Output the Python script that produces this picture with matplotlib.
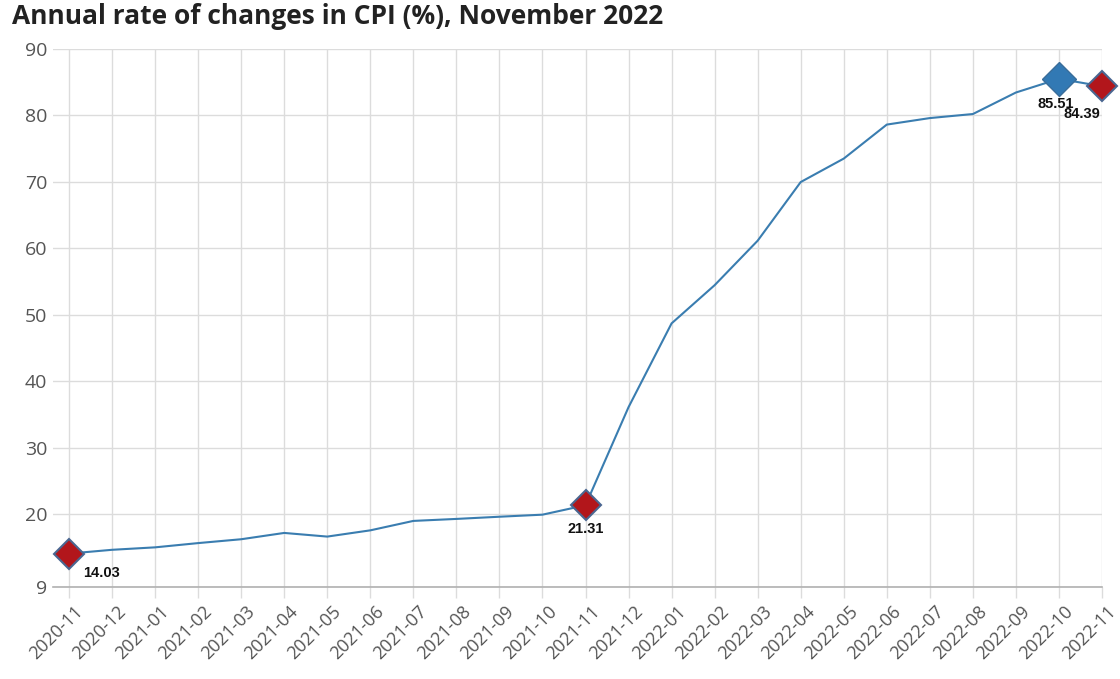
import matplotlib
matplotlib.use('Agg')
import matplotlib.pyplot as plt
from matplotlib.transforms import ScaledTranslation

# monthly annual CPI change (%)
months = ['2020-11', '2020-12', '2021-01', '2021-02', '2021-03', '2021-04', '2021-05',
          '2021-06', '2021-07', '2021-08', '2021-09', '2021-10', '2021-11', '2021-12',
          '2022-01', '2022-02', '2022-03', '2022-04', '2022-05', '2022-06', '2022-07',
          '2022-08', '2022-09', '2022-10', '2022-11']
cpi = [14.03, 14.60, 14.97, 15.61, 16.19, 17.14, 16.59, 17.53, 18.95, 19.25, 19.58, 19.89,
       21.31, 36.08, 48.69, 54.44, 61.14, 69.97, 73.50, 78.62, 79.60, 80.21, 83.45, 85.51, 84.39]

# highlighted points
red_points = [0, 12, 24]
blue_points = [23]
y_ticks = [9, 20, 30, 40, 50, 60, 70, 80, 90]

line_color = '#3a7db0'
grid_color = '#dcdcdc'
tick_color = '#555555'

fig = plt.figure(figsize=(11.2, 6.79), dpi=100)
ax = fig.add_axes([53 / 1120, 1 - 587 / 679, (1102 - 53) / 1120, (587 - 49) / 679])

x = list(range(len(months)))
ax.plot(x, cpi, color=line_color, linewidth=1.5, zorder=3)

for i in red_points:
    ax.plot(x[i], cpi[i], marker='D', markersize=15, color='#b2161b',
            markeredgecolor='#4a6690', markeredgewidth=1.5, zorder=4, clip_on=False)
for i in blue_points:
    ax.plot(x[i], cpi[i], marker='D', markersize=17, color='#3279b4',
            markeredgecolor='#3a6d9a', markeredgewidth=1, zorder=4, clip_on=False)

# label offsets (points) below the highlighted markers
label_pos = {0: (10, -14, 'left'), 12: (0, -17, 'center'), 23: (-2, -18, 'center'), 24: (-1, -20, 'right')}
for i, (dx, dy, ha) in label_pos.items():
    ax.annotate(f'{cpi[i]:.2f}', (x[i], cpi[i]), xytext=(dx, dy), textcoords='offset points',
                ha=ha, va='center', fontsize=10.5, fontweight='bold', color='#111111',
                family='Liberation Sans', zorder=5, annotation_clip=False)

ax.set_xlim(-0.372, 24)
ax.set_ylim(9, 90)
ax.set_yticks(y_ticks)
ax.set_xticks(x)
ax.set_xticklabels(months, rotation=45, ha='right', rotation_mode='anchor')
ax.grid(True, color=grid_color, linewidth=1)
ax.set_axisbelow(True)

for side in ['top', 'right', 'left']:
    ax.spines[side].set_visible(False)
ax.spines['bottom'].set_color('#b0b0b0')
ax.spines['bottom'].set_linewidth(1.2)

ax.tick_params(axis='x', colors=grid_color, length=8, width=1, labelcolor=tick_color,
               labelsize=13, pad=3)
ax.tick_params(axis='y', length=0, labelcolor=tick_color, labelsize=14, pad=4)
shift = ScaledTranslation(5 / 100, 0, fig.dpi_scale_trans)
for lab in ax.get_xticklabels():
    lab.set_family('Open Sans')
    lab.set_transform(lab.get_transform() + shift)
for lab in ax.get_yticklabels():
    lab.set_family('Open Sans')

fig.text(12 / 1120, 1 - 16 / 679, 'Annual rate of changes in CPI (%), November 2022',
         fontsize=19, fontweight='bold', color='#222222', family='Open Sans',
         ha='left', va='center')

fig.savefig('out.png', dpi=100, facecolor='white')
